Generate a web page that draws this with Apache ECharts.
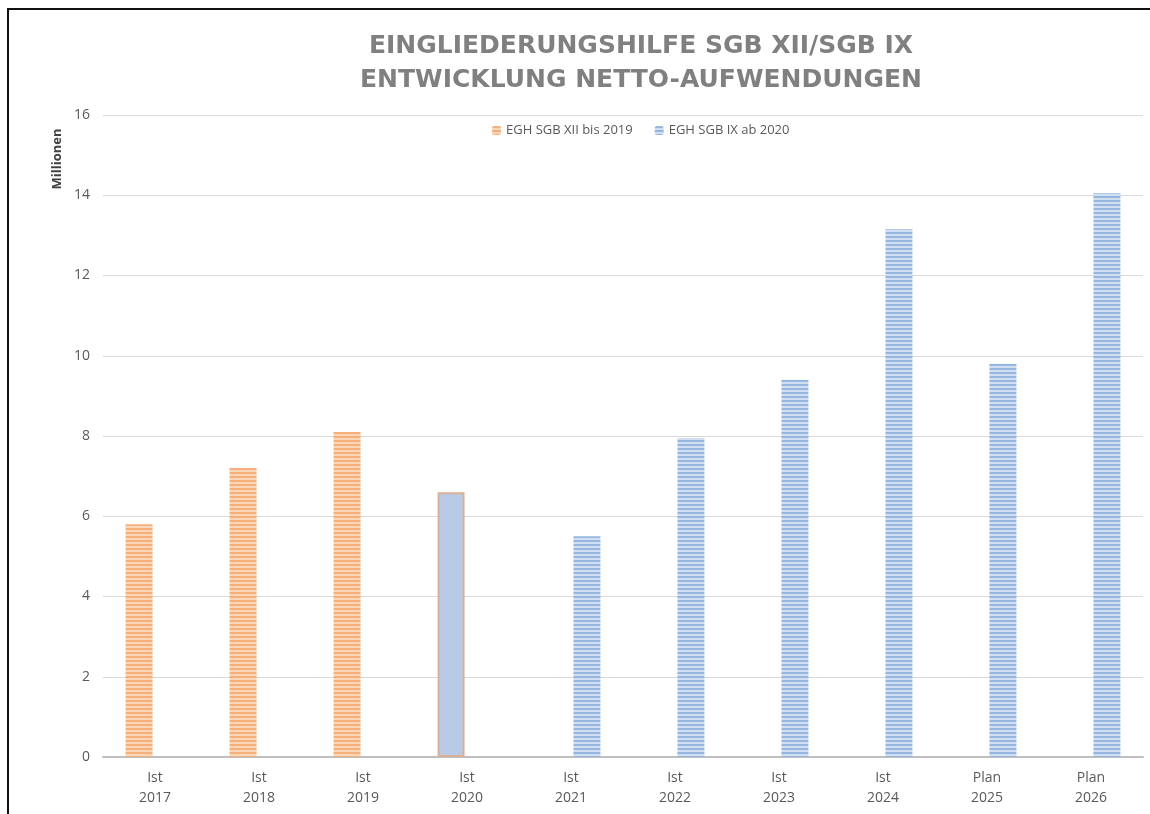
<!DOCTYPE html>
<html>
<head>
<meta charset="utf-8">
<script src="https://cdn.jsdelivr.net/npm/echarts@6/dist/echarts.min.js"></script>
<style>
  html, body { margin: 0; padding: 0; background: #fff; }
  #chart { width: 1150px; height: 814px; }
</style>
</head>
<body>
<div id="chart"></div>
<script>
// Werte in Millionen Euro
var categories = ['Ist\n2017', 'Ist\n2018', 'Ist\n2019', 'Ist\n2020', 'Ist\n2021',
                  'Ist\n2022', 'Ist\n2023', 'Ist\n2024', 'Plan\n2025', 'Plan\n2026'];
var sgbXiiValues = [5.8, 7.2, 8.1, 6.6, null, null, null, null, null, null];
var sgbIxValues = [null, null, null, null, 5.5, 7.95, 9.4, 13.15, 9.8, 14.05];
var seriesNames = ['EGH SGB XII bis 2019', 'EGH SGB IX ab 2020'];
var yTicks = { min: 0, max: 16, interval: 2 };

// gestreifte Füllung wie im Excel-Original
function stripes(dark, light) {
    var c = document.createElement('canvas');
    c.width = 4;
    c.height = 4;
    var ctx = c.getContext('2d');
    ctx.fillStyle = light;
    ctx.fillRect(0, 0, 4, 4);
    ctx.fillStyle = dark;
    ctx.fillRect(0, 0, 4, 2);
    return { image: c, repeat: 'repeat' };
}

var orangeFill = stripes('#f6ae7a', '#fcd6b8');
var blueFill = stripes('#97b6df', '#d0def1');

// 2020 ist im Original als Sonderfall hellblau mit orangem Rand
var xiiData = sgbXiiValues.map(function (v, i) {
    if (i === 3) {
        return { value: v, itemStyle: { color: '#b7cae6', borderColor: '#dcb193', borderWidth: 2 } };
    }
    return v;
});

var chart = echarts.init(document.getElementById('chart'));

var option = {
    backgroundColor: '#fff',
    animation: false,
    title: {
        text: 'EINGLIEDERUNGSHILFE SGB XII/SGB IX\nENTWICKLUNG NETTO-AUFWENDUNGEN',
        left: 636,
        top: 24,
        textAlign: 'center',
        textStyle: {
            fontFamily: 'DejaVu Sans',
            fontWeight: 'bold',
            fontSize: 25,
            lineHeight: 34,
            color: '#808080'
        }
    },
    legend: {
        top: 119,
        left: 487,
        itemWidth: 9,
        itemHeight: 9,
        itemGap: 22,
        textStyle: { fontFamily: 'Open Sans', fontSize: 13, color: '#595959' },
        data: seriesNames
    },
    grid: { left: 103, right: 7, top: 115, bottom: 57 },
    xAxis: {
        type: 'category',
        data: categories,
        axisTick: { show: false },
        axisLine: { lineStyle: { color: '#bfbfbf', width: 2 } },
        axisLabel: {
            color: '#595959',
            fontFamily: 'Open Sans',
            fontSize: 14,
            lineHeight: 20,
            margin: 11
        }
    },
    yAxis: {
        type: 'value',
        min: yTicks.min,
        max: yTicks.max,
        interval: yTicks.interval,
        axisLine: { show: false },
        axisTick: { show: false },
        splitLine: { lineStyle: { color: '#d9d9d9', width: 1 } },
        axisLabel: { color: '#595959', fontFamily: 'Open Sans', fontSize: 14, margin: 13 }
    },
    series: [
        {
            name: seriesNames[0],
            type: 'bar',
            data: xiiData,
            barWidth: 27,
            barGap: '18%',
            itemStyle: { color: orangeFill }
        },
        {
            name: seriesNames[1],
            type: 'bar',
            data: sgbIxValues,
            barWidth: 27,
            itemStyle: { color: blueFill }
        }
    ],
    graphic: [
        {
            type: 'text',
            x: 57,
            y: 159,
            rotation: Math.PI / 2,
            style: {
                text: 'Millionen',
                fontFamily: 'Open Sans',
                fontWeight: 'bold',
                fontSize: 13,
                fill: '#404040',
                align: 'center',
                verticalAlign: 'middle'
            }
        },
        {
            type: 'rect',
            shape: { x: 8, y: 9, width: 1160, height: 830 },
            style: { fill: null, stroke: '#111', lineWidth: 2 }
        }
    ]
};

chart.setOption(option);
</script>
</body>
</html>
